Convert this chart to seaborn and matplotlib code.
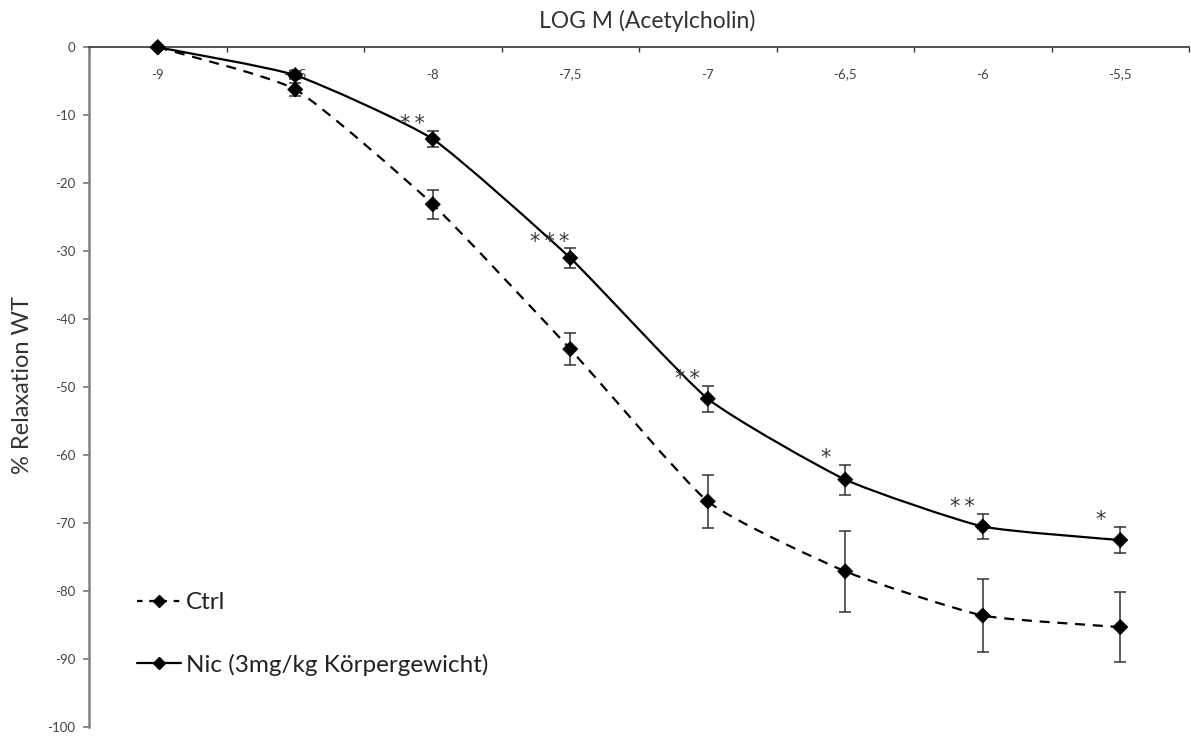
import numpy as np
import pandas as pd
import matplotlib
matplotlib.use("Agg")
import matplotlib.pyplot as plt
import seaborn as sns
from matplotlib.path import Path
from matplotlib.patches import PathPatch
from matplotlib.lines import Line2D

# Acetylcholine concentrations (log M) and relaxation responses
log_conc = ["-9", "-8,5", "-8", "-7,5", "-7", "-6,5", "-6", "-5,5"]
ctrl_mean = [0.0, -6.2, -23.1, -44.4, -66.8, -77.1, -83.6, -85.3]
ctrl_sem = [0.0, 1.0, 2.1, 2.3, 3.9, 6.0, 5.4, 5.2]
nic_mean = [0.0, -4.1, -13.5, -31.0, -51.7, -63.6, -70.5, -72.5]
nic_sem = [0.0, 0.6, 1.2, 1.4, 1.9, 2.2, 1.9, 1.9]
significance = ["", "", "**", "***", "**", "*", "**", "*"]

series_names = ["Ctrl", "Nic (3mg/kg Körpergewicht)"]
y_ticks = list(range(-100, 1, 10))

sns.set_style("white")
plt.rcParams["font.family"] = ["Lato", "DejaVu Sans"]

fig = plt.figure(figsize=(11.91, 7.38), dpi=100)
ax = fig.add_axes([89 / 1191, 1 - 727 / 738, 1100 / 1191, (727 - 47.3) / 738])

xpos = np.arange(len(log_conc))
df = pd.DataFrame({
    "x": np.concatenate([xpos, xpos]),
    "y": ctrl_mean + nic_mean,
    "group": [series_names[0]] * len(xpos) + [series_names[1]] * len(xpos),
})


def smooth_path(xs, ys, tension=1 / 12):
    """Gently rounded Bezier path through the points (Catmull-Rom tangents)."""
    pts = np.column_stack([xs, ys]).astype(float)
    n = len(pts)
    verts = [pts[0]]
    codes = [Path.MOVETO]
    for i in range(n - 1):
        p0 = pts[max(i - 1, 0)]
        p1 = pts[i]
        p2 = pts[i + 1]
        p3 = pts[min(i + 2, n - 1)]
        c1 = p1 + (p2 - p0) * tension
        c2 = p2 - (p3 - p1) * tension
        verts += [c1, c2, p2]
        codes += [Path.CURVE4] * 3
    return Path(verts, codes)


line_color = "#000000"
ax.add_patch(PathPatch(smooth_path(xpos, ctrl_mean), fill=False, edgecolor=line_color,
                       lw=1.6, linestyle=(0, (4.5, 3.5)), clip_on=False, zorder=2))
ax.add_patch(PathPatch(smooth_path(xpos, nic_mean), fill=False, edgecolor=line_color,
                       lw=1.6, linestyle="-", clip_on=False, zorder=2))

for mean, sem in [(ctrl_mean, ctrl_sem), (nic_mean, nic_sem)]:
    ax.errorbar(xpos[1:], mean[1:], yerr=sem[1:], fmt="none", ecolor="#333333",
                elinewidth=1.1, capsize=4, capthick=1.1, zorder=3)

sns.scatterplot(data=df, x="x", y="y", hue="group", palette=["black", "black"],
                marker="D", s=60, edgecolor="black", linewidth=0.5, legend=False,
                ax=ax, zorder=4, clip_on=False)

# significance marks above the Nic error bars
for x, m, e, s in zip(xpos, nic_mean, nic_sem, significance):
    if s:
        ax.text(x - 0.146, m + e + 0.1, "\u2009".join(s), ha="center", va="baseline",
                fontsize=15, color="#3a3a3a", family="DejaVu Sans")

ax.set_xlim(-0.5, len(log_conc) - 0.5)
ax.set_ylim(-100, 0)
ax.set_xlabel("")
ax.set_ylabel("")

# category axis along the top, labels sitting just below the line
ax.set_xticks(xpos)
ax.set_xticklabels(log_conc)
ax.set_xticks(np.arange(-0.5, len(log_conc), 1.0), minor=True)
ax.tick_params(axis="x", which="major", top=True, bottom=False, labeltop=True,
               labelbottom=False, length=0, pad=-24, labelsize=9.5, labelcolor="#444444")
ax.tick_params(axis="x", which="minor", top=True, bottom=False, direction="in",
               length=3.5, width=1.0, color="#333333")

ax.set_yticks(y_ticks)
ax.set_yticklabels([str(v) for v in y_ticks])
ax.tick_params(axis="y", which="major", left=True, direction="out", length=4, width=1.2,
               color="#777777", pad=6, labelsize=9.5, labelcolor="#444444")

for side in ["right", "bottom"]:
    ax.spines[side].set_visible(False)
ax.spines["top"].set_color("#444444")
ax.spines["top"].set_linewidth(1.3)
ax.spines["left"].set_color("#808080")
ax.spines["left"].set_linewidth(1.8)

fig.text(647 / 1191, 1 - 21 / 738, "LOG M (Acetylcholin)", ha="center", va="center",
         fontsize=16.5, color="#333333")
fig.text(23 / 1191, 1 - 385 / 738, "% Relaxation WT", ha="center", va="center",
         rotation=90, fontsize=17, color="#333333")

handles = [
    Line2D([], [], color="black", lw=1.6, linestyle=(0, (2.5, 3.0)), marker="D",
           markersize=6),
    Line2D([], [], color="black", lw=1.6, linestyle="-", marker="D", markersize=6),
]
fig.legend(handles, series_names, loc="center left",
           bbox_to_anchor=(137 / 1191, 1 - 634 / 738), frameon=False, fontsize=17.5,
           handlelength=1.8, handletextpad=0.2, labelspacing=1.65, borderpad=0,
           borderaxespad=0, labelcolor="#222222")

fig.savefig("out.png", dpi=100)
